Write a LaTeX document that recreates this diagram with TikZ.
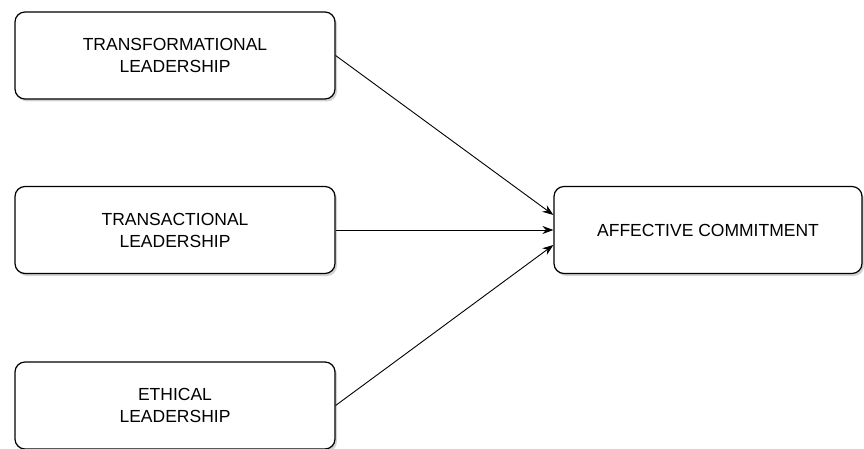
\documentclass[tikz,border=0pt]{standalone}
\usepackage{fontspec}
\setmainfont{Liberation Sans}
\usetikzlibrary{arrows.meta,shadows}
\begin{document}
\begin{tikzpicture}[
    x=1pt, y=-1pt,
    box/.style={draw,line width=1.2pt,rounded corners=10pt,align=center,fill=white,
        minimum width=320pt,minimum height=87pt,text=black,
        font=\fontsize{17.5}{22}\selectfont,
        drop shadow={opacity=0.35,shadow xshift=2pt,shadow yshift=-2.5pt}},
    arr/.style={-{Stealth[length=11pt,width=8pt]},line width=0.9pt}
]
\useasboundingbox (0,0) rectangle (864,449);
\node[box] (transf) at (175,55.5) {TRANSFORMATIONAL\\LEADERSHIP};
\node[box] (transa) at (175,230) {TRANSACTIONAL\\LEADERSHIP};
\node[box] (ethic) at (175,405.5) {ETHICAL\\LEADERSHIP};
\node[box,minimum width=308pt] (affect) at (708,230) {AFFECTIVE COMMITMENT};
\draw[arr] (transf.east) -- ([yshift=15pt]affect.west);
\draw[arr] (transa.east) -- (affect.west);
\draw[arr] (ethic.east) -- ([yshift=-15pt]affect.west);
\end{tikzpicture}
\end{document}
